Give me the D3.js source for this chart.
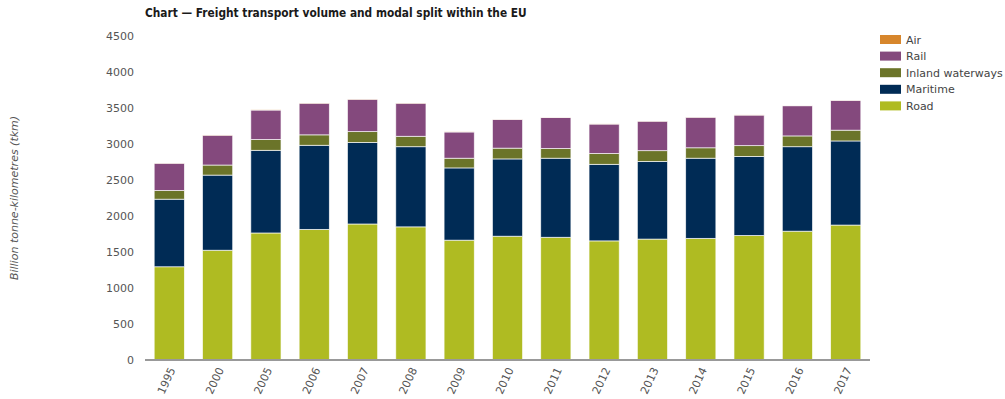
<!DOCTYPE html>
<html>
<head>
<meta charset="utf-8">
<script src="https://cdn.jsdelivr.net/npm/d3@7"></script>
<style>
  html, body { margin: 0; padding: 0; background: #fff; }
  svg { display: block; font-family: "DejaVu Sans", Verdana, sans-serif; }
</style>
</head>
<body>
<svg id="chart" width="1005" height="399"></svg>
<script>
// Freight transport performance in the EU, billion tonne-kilometres
const years = ["1995", "2000", "2005", "2006", "2007", "2008", "2009", "2010",
               "2011", "2012", "2013", "2014", "2015", "2016", "2017"];
const road     = [1290, 1520, 1760, 1810, 1885, 1845, 1660, 1715, 1700, 1650, 1675, 1685, 1725, 1785, 1870];
const maritime = [ 940, 1045, 1150, 1170, 1135, 1115, 1005, 1075, 1100, 1065, 1080, 1115, 1100, 1175, 1170];
const inland   = [ 120,  140,  150,  145,  150,  145,  135,  150,  135,  150,  150,  145,  150,  150,  150];
const rail     = [ 380,  415,  410,  440,  450,  460,  365,  400,  430,  410,  410,  425,  425,  420,  415];
const air      = [   2,    3,    3,    3,    3,    3,    2,    2,    2,    2,    2,    2,    2,    2,    2];
const yTicks   = [0, 500, 1000, 1500, 2000, 2500, 3000, 3500, 4000, 4500];

// Stacking order bottom to top
const modes = ["Road", "Maritime", "Inland waterways", "Rail", "Air"];
const modeValues = { "Road": road, "Maritime": maritime, "Inland waterways": inland, "Rail": rail, "Air": air };
const colors = {
  "Road": "#afbb22",
  "Maritime": "#002b55",
  "Inland waterways": "#6b7429",
  "Rail": "#84497d",
  "Air": "#d7862c"
};

const rows = years.map((y, i) => {
  const r = { year: y };
  modes.forEach(m => { r[m] = modeValues[m][i]; });
  return r;
});

const svg = d3.select("#chart");

const x = d3.scaleBand().domain(years).range([145, 870]).paddingInner(0.375).paddingOuter(0.19);
const y = d3.scaleLinear().domain([0, 4500]).range([359.5, 36]);

// Title
svg.append("text")
  .attr("x", 145).attr("y", 17)
  .attr("font-family", "'DejaVu Sans Condensed', 'DejaVu Sans', sans-serif")
  .attr("font-stretch", "condensed")
  .attr("font-size", 11.8).attr("font-weight", "bold").attr("fill", "#1a1a1a")
  .text("Chart \u2014 Freight transport volume and modal split within the EU");

// Y axis labels
const yAxis = d3.axisLeft(y).tickValues(yTicks).tickSize(0).tickPadding(0).tickFormat(d3.format("d"));
const gy = svg.append("g").attr("transform", "translate(134,0)").call(yAxis);
gy.select(".domain").remove();
gy.selectAll("text").attr("font-size", 11).attr("fill", "#555").attr("font-family", "DejaVu Sans, Verdana, sans-serif");

// Y axis title
svg.append("text")
  .attr("transform", "translate(18,198) rotate(-90)")
  .attr("text-anchor", "middle")
  .attr("font-size", 11).attr("font-style", "italic").attr("fill", "#555")
  .text("Billion tonne-kilometres (tkm)");

// Stacked bars
const stack = d3.stack().keys(modes);
const series = stack(rows);
svg.append("g").selectAll("g")
  .data(series).join("g")
  .attr("fill", d => colors[d.key])
  .selectAll("rect")
  .data(d => d).join("rect")
  .attr("x", d => x(d.data.year))
  .attr("width", x.bandwidth())
  .attr("y", d => y(d[1]))
  .attr("height", d => y(d[0]) - y(d[1]))
  .attr("stroke", "#fff").attr("stroke-width", 0.8).attr("stroke-opacity", 0.8);

// Baseline / x axis
const xAxis = d3.axisBottom(x).tickSize(0).tickPadding(0);
const gx = svg.append("g").attr("transform", "translate(0,360)").call(xAxis);
gx.select(".domain").attr("stroke", "#999").attr("stroke-width", 2)
  .attr("d", "M145,0H870");
gx.selectAll("text")
  .attr("font-size", 11).attr("fill", "#555").attr("font-family", "DejaVu Sans, Verdana, sans-serif")
  .attr("text-anchor", "end")
  .attr("dy", "0.35em")
  .attr("transform", "translate(3,8) rotate(-65)");

// Legend, top to bottom
const legendOrder = ["Air", "Rail", "Inland waterways", "Maritime", "Road"];
const lg = svg.append("g").attr("transform", "translate(880,35)");
legendOrder.forEach((m, i) => {
  const row = lg.append("g").attr("transform", `translate(0,${i * 16.6})`);
  row.append("rect").attr("width", 21).attr("height", 9).attr("fill", colors[m]);
  row.append("text").attr("x", 26).attr("y", 8.5)
    .attr("font-size", 11).attr("fill", "#444").text(m);
});
</script>
</body>
</html>
